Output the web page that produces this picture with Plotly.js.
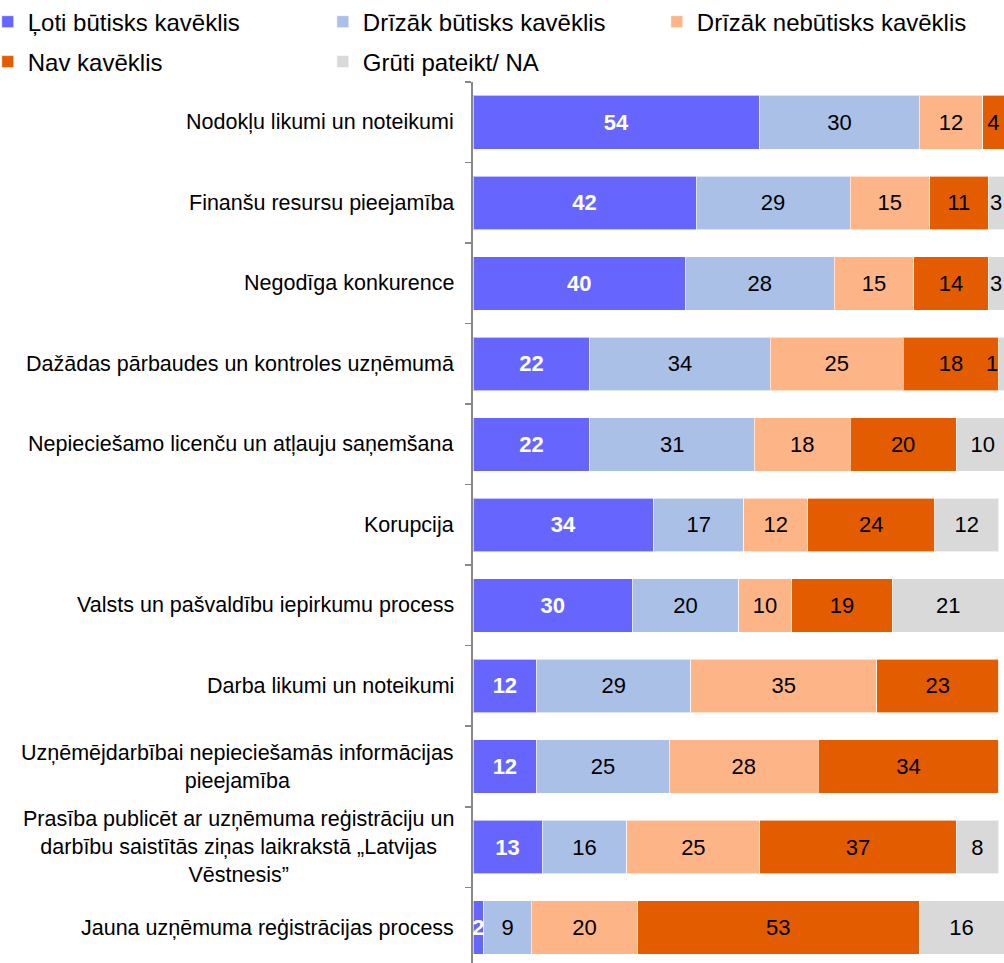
<!DOCTYPE html>
<html>
<head>
<meta charset="utf-8">
<script src="https://cdn.plot.ly/plotly-3.0.1.min.js"></script>
<style>
  html, body { margin: 0; padding: 0; background: #fff; }
  #chart { width: 1004px; height: 963px; }
</style>
</head>
<body>
<div id="chart"></div>
<script>
const categories = [
  "Nodokļu likumi un noteikumi",
  "Finanšu resursu pieejamība",
  "Negodīga konkurence",
  "Dažādas pārbaudes un kontroles uzņēmumā",
  "Nepieciešamo licenču un atļauju saņemšana",
  "Korupcija",
  "Valsts un pašvaldību iepirkumu process",
  "Darba likumi un noteikumi",
  "Uzņēmējdarbībai nepieciešamās informācijas<br>pieejamība",
  "Prasība publicēt ar uzņēmuma reģistrāciju un<br>darbību saistītās ziņas laikrakstā „Latvijas<br>Vēstnesis”",
  "Jauna uzņēmuma reģistrācijas process"
];

const seriesNames = [
  "Ļoti būtisks kavēklis",
  "Drīzāk būtisks kavēklis",
  "Drīzāk nebūtisks kavēklis",
  "Nav kavēklis",
  "Grūti pateikt/ NA"
];

const lotiButisks    = [54, 42, 40, 22, 22, 34, 30, 12, 12, 13, 2];
const drizakButisks  = [30, 29, 28, 34, 31, 17, 20, 29, 25, 16, 9];
const drizakNebut    = [12, 15, 15, 25, 18, 12, 10, 35, 28, 25, 20];
const navKaveklis    = [4, 11, 14, 18, 20, 24, 19, 23, 34, 37, 53];
const grutiPateikt   = [0, 3, 3, 1, 10, 12, 21, 0, 0, 8, 16];

const colors = ["#6666ff", "#aac0e7", "#fdb587", "#e45c00", "#d9d9d9"];
const font = "Liberation Sans, Arial, sans-serif";

const allSeries = [lotiButisks, drizakButisks, drizakNebut, navKaveklis, grutiPateikt];
const legendIds = ['legend', 'legend2', 'legend3', 'legend4', 'legend5'];

// a label on the last, very thin segment is nudged left so it stays on the page
function labelFor(v, i) {
  if (v <= 0) return '';
  if (i === allSeries.length - 1 && v < 2) return v + '\u00a0\u00a0\u00a0';
  return String(v);
}

const traces = allSeries.map((vals, i) => ({
  type: 'bar',
  orientation: 'h',
  name: seriesNames[i],
  y: categories,
  x: vals,
  text: vals.map(v => labelFor(v, i)),
  textposition: 'inside',
  insidetextanchor: 'middle',
  constraintext: 'none',
  textangle: 0,
  textfont: {
    family: font,
    size: 22,
    color: i === 0 ? '#ffffff' : '#000000',
    weight: i === 0 ? 'bold' : 'normal'
  },
  marker: { color: colors[i], line: { color: 'rgba(255,255,255,0.6)', width: 1 } },
  legend: legendIds[i],
  hoverinfo: 'name+x'
}));

// category labels drawn as annotations so wrapped lines are centred
const labelNotes = categories.map(c => ({
  x: 0, xref: 'paper', xanchor: 'right', xshift: -17,
  y: c, yref: 'y', yanchor: 'middle',
  text: c, showarrow: false, align: 'center',
  font: { family: font, size: 21.5, color: '#000' }
}));

// one legend per entry: three columns, two rows
const legendX = [-0.895, -0.264, 0.365, -0.895, -0.264];
const legendY = [1.068, 1.068, 1.068, 1.0227, 1.0227];

const layout = {
  width: 1004,
  height: 963,
  margin: { l: 473, r: 0, t: 82, b: 0, autoexpand: false },
  paper_bgcolor: '#fff',
  plot_bgcolor: '#fff',
  barmode: 'stack',
  bargap: 0.335,
  font: { family: font, size: 19, color: '#000' },
  xaxis: {
    range: [0, 100],
    visible: false,
    fixedrange: true
  },
  yaxis: {
    type: 'category',
    categoryorder: 'array',
    categoryarray: categories,
    range: [10.44, -0.5],
    showticklabels: false,
    showgrid: false,
    zeroline: false,
    showline: true,
    linecolor: '#888888',
    linewidth: 2,
    ticks: 'outside',
    tickson: 'boundaries',
    ticklen: 6,
    tickcolor: '#888888',
    tickwidth: 1.5,
    fixedrange: true
  },
  showlegend: true,
  annotations: labelNotes
};

legendIds.forEach((id, i) => {
  layout[id] = {
    orientation: 'h',
    xref: 'paper', yref: 'paper',
    x: legendX[i], xanchor: 'left',
    y: legendY[i], yanchor: 'middle',
    indentation: -10,
    font: { family: font, size: 24, color: '#000' },
    bgcolor: 'rgba(0,0,0,0)'
  };
});

Plotly.newPlot('chart', traces, layout, { displayModeBar: false, staticPlot: true });
</script>
</body>
</html>
